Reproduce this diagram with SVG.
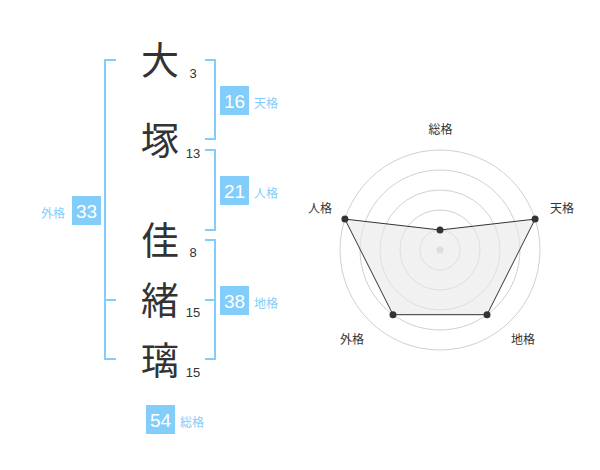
<svg xmlns="http://www.w3.org/2000/svg" width="600" height="470" viewBox="0 0 600 470">
<style>
.ch{font-family:"Noto Sans CJK JP","Noto Sans CJK SC",sans-serif;font-size:38px;fill:#333;text-anchor:middle}
.st{font-family:"Liberation Sans",Arial,sans-serif;font-size:13px;fill:#333;text-anchor:middle}
.br{fill:none;stroke:#82cdfa;stroke-width:2}
.bx{fill:#82cdfa}
.bn{font-family:"Liberation Sans",Arial,sans-serif;font-size:19px;fill:#fff;text-anchor:middle}
.bl{font-family:"Noto Sans CJK JP","Noto Sans CJK SC",sans-serif;font-size:12px;fill:#82cdfa}
.ring{fill:none;stroke:#d0d0d0;stroke-width:1}
.rl{font-family:"Noto Sans CJK JP","Noto Sans CJK SC",sans-serif;font-size:12px;fill:#333;text-anchor:middle}
.dot{fill:#333}
</style>
<rect width="600" height="470" fill="#fff"/>
<g id="connectors">
<path class="br" d="M116,60 H105 V359 H116 M105,300 H116"/>
<path class="br" d="M205,60 H215 V139 H205"/>
<path class="br" d="M205,150 H215 V230 H205"/>
<path class="br" d="M205,240 H215 V359 H205 M205,300 H215"/>
</g>
<g id="name">
<g id="c1"><text class="ch" x="160" y="74">大</text><text class="st" x="193" y="78">3</text></g>
<g id="c2"><text class="ch" x="160" y="154">塚</text><text class="st" x="193" y="158">13</text></g>
<g id="c3"><text class="ch" x="160" y="254">佳</text><text class="st" x="193" y="257">8</text></g>
<g id="c4"><text class="ch" x="160" y="314">緒</text><text class="st" x="193" y="317">15</text></g>
<g id="c5"><text class="ch" x="160" y="374">璃</text><text class="st" x="193" y="377">15</text></g>
</g>
<g id="tenkaku"><rect class="bx" x="220" y="86" width="29" height="29"/><text class="bn" x="234.5" y="107.5">16</text><text class="bl" x="254" y="108">天格</text></g>
<g id="jinkaku"><rect class="bx" x="220" y="176" width="29" height="29"/><text class="bn" x="234.5" y="197.5">21</text><text class="bl" x="254" y="198">人格</text></g>
<g id="chikaku"><rect class="bx" x="220" y="286" width="29" height="29"/><text class="bn" x="234.5" y="307.5">38</text><text class="bl" x="254" y="308">地格</text></g>
<g id="gaikaku"><rect class="bx" x="72" y="196" width="29" height="29"/><text class="bn" x="86.5" y="217.5">33</text><text class="bl" x="41" y="218">外格</text></g>
<g id="soukaku"><rect class="bx" x="146" y="405" width="29" height="29"/><text class="bn" x="160.5" y="426.5">54</text><text class="bl" x="180" y="427">総格</text></g>
<g id="radar">
<circle class="ring" cx="440" cy="250" r="20"/>
<circle class="ring" cx="440" cy="250" r="40"/>
<circle class="ring" cx="440" cy="250" r="60"/>
<circle class="ring" cx="440" cy="250" r="80"/>
<circle class="ring" cx="440" cy="250" r="100"/>
<circle cx="440" cy="250" r="3.5" fill="#ccc"/>
<polygon points="440,230 535.1,219.1 487,314.7 393,314.7 344.9,219.1" fill="#e8e8e8" fill-opacity="0.6" stroke="#333" stroke-width="1"/>
<circle class="dot" cx="440" cy="230" r="3.5"/>
<circle class="dot" cx="535.1" cy="219.1" r="3.5"/>
<circle class="dot" cx="487" cy="314.7" r="3.5"/>
<circle class="dot" cx="393" cy="314.7" r="3.5"/>
<circle class="dot" cx="344.9" cy="219.1" r="3.5"/>
<text class="rl" x="440.5" y="134">総格</text>
<text class="rl" x="562" y="213">天格</text>
<text class="rl" x="320" y="213">人格</text>
<text class="rl" x="523" y="344">地格</text>
<text class="rl" x="352" y="344">外格</text>
</g>
</svg>
